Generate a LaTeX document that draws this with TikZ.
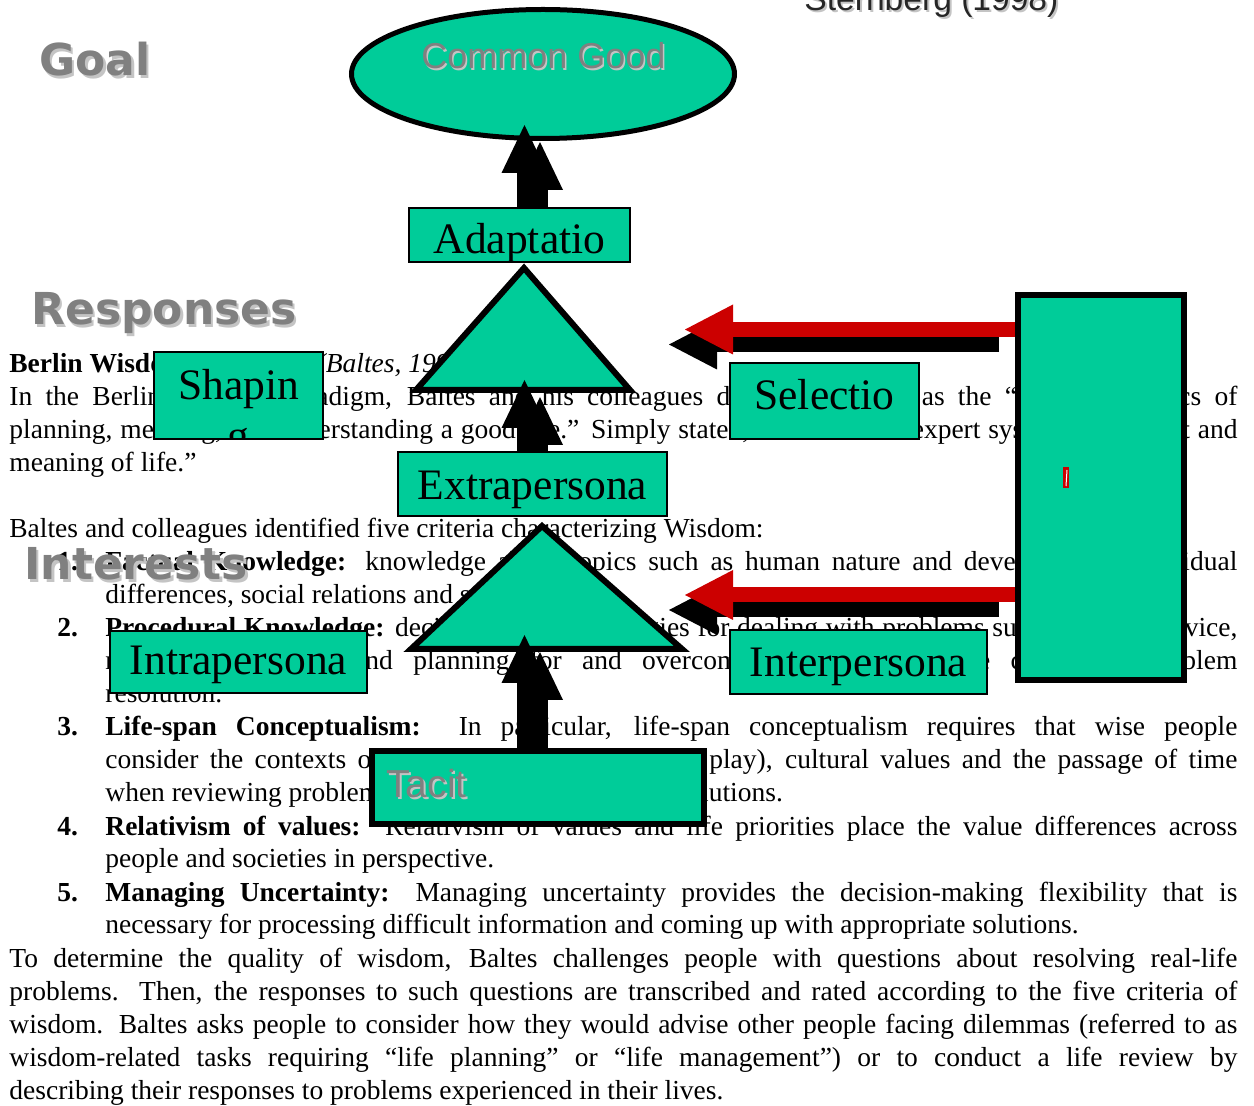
\documentclass[tikz,border=0pt]{standalone}
\usepackage{fontspec}
\setmainfont{Liberation Serif}
\setsansfont{DejaVu Sans}
\newfontfamily\arialfont{Liberation Sans}
\usepackage{tikz}
\usetikzlibrary{arrows.meta,shapes.geometric}
\usepackage{xcolor}
\definecolor{wisdomgreen}{HTML}{00CC99}
\definecolor{arrowred}{HTML}{CC0000}
\definecolor{headgray}{HTML}{808080}
\definecolor{shadegray}{HTML}{C4C4C4}

\newcommand{\bodysize}{\fontsize{13.75}{16.5}\selectfont}
\newcommand{\fullline}[1]{\makebox[614pt][s]{#1}}
\newcommand{\itemline}[1]{\makebox[566pt][s]{#1}}

\tikzset{
  bodyline/.style={font=\bodysize, inner sep=0pt, anchor=base west},
  numline/.style={bodyline, font=\bodysize\bfseries},
  heading/.style={font=\sffamily\bfseries\fontsize{22}{26}\selectfont, text=headgray, inner sep=0pt, anchor=base west},
  headshadow/.style={heading, text=shadegray},
  greenbox/.style={draw, fill=wisdomgreen, line width=1pt, inner sep=0pt},
  boxfont/.style={font=\fontsize{21.75}{26}\selectfont, inner sep=0pt, anchor=base},
  blockarrow/.style={draw=black, line width=8pt, -{Triangle[width=23pt 0 0, length=24pt 0 0, line width=0pt 0]}},
  redarrow/.style={draw=arrowred, line width=7.5pt, -{Triangle[width=25pt 0 0, length=24pt 0 0, line width=0pt 0]}},
  shadowarrow/.style={redarrow, draw=black, transform canvas={xshift=-8pt, yshift=-7.5pt}}
}

\begin{document}
\begin{tikzpicture}[x=0.5pt, y=-0.5pt]
  \useasboundingbox (0,0) rectangle (1254,1106);
  %% text of the page behind the diagram
  \node[bodyline] (berlin) at (9,373) {\textbf{Berlin Wisdom Paradigm} \textit{(Baltes, 1990)}};
  \node[bodyline] (l0) at (9,406) {\fullline{In the Berlin Wisdom Paradigm, Baltes and his colleagues describe wisdom as the “wise pragmatics of}};
  \node[bodyline] (l1) at (9,439) {\fullline{planning, meaning, and understanding a good life.” Simply stated, wisdom is an expert system of conduct and}};
  \node[bodyline] (l2) at (9,472) {meaning of life.”};
  \node[bodyline] (l4) at (9,538) {Baltes and colleagues identified five criteria characterizing Wisdom:};
  \node[numline] (n1) at (57,571) {1.};
  \node[bodyline] (l5) at (105,571) {\itemline{\textbf{Factual Knowledge:} knowledge about topics such as human nature and development, individual}};
  \node[bodyline] (l6) at (105,604) {differences, social relations and society.};
  \node[numline] (n2) at (57,637) {2.};
  \node[bodyline] (l7) at (105,637) {\itemline{\textbf{Procedural Knowledge:} decision-making strategies for dealing with problems such as giving advice,}};
  \node[bodyline] (l8) at (105,670) {\itemline{resolving conflicts, and planning for and overcoming obstacles in the course of problem}};
  \node[bodyline] (l9) at (105,703) {resolution.};
  \node[numline] (n3) at (57,736) {3.};
  \node[bodyline] (l10) at (105,736) {\itemline{\textbf{Life-span Conceptualism:}\ \ In particular, life-span conceptualism requires that wise people}};
  \node[bodyline] (l11) at (105,769) {\itemline{consider the contexts of life (family, friends, work, play), cultural values and the passage of time}};
  \node[bodyline] (l12) at (105,802) {when reviewing problems and considering possible solutions.};
  \node[numline] (n4) at (57,835) {4.};
  \node[bodyline] (l13) at (105,835) {\itemline{\textbf{Relativism of values:}\ \ Relativism of values and life priorities place the value differences across}};
  \node[bodyline] (l14) at (105,868) {people and societies in perspective.};
  \node[numline] (n5) at (57,901) {5.};
  \node[bodyline] (l15) at (105,901) {\itemline{\textbf{Managing Uncertainty:} Managing uncertainty provides the decision-making flexibility that is}};
  \node[bodyline] (l16) at (105,934) {necessary for processing difficult information and coming up with appropriate solutions.};
  \node[bodyline] (l17) at (9,967) {\fullline{To determine the quality of wisdom, Baltes challenges people with questions about resolving real-life}};
  \node[bodyline] (l18) at (9,1000) {\fullline{problems. Then, the responses to such questions are transcribed and rated according to the five criteria of}};
  \node[bodyline] (l19) at (9,1033) {\fullline{wisdom. Baltes asks people to consider how they would advise other people facing dilemmas (referred to as}};
  \node[bodyline] (l20) at (9,1066) {\fullline{wisdom-related tasks requiring “life planning” or “life management”) or to conduct a life review by}};
  \node[bodyline] (l21) at (9,1099) {describing their responses to problems experienced in their lives.};

  %% goal ellipse and the two triangles
  \node[ellipse, draw, fill=wisdomgreen, line width=2.5pt, inner sep=0pt,
        minimum width=191.5pt, minimum height=64.5pt] (good) at (543,74) {};
  \node[font=\arialfont\fontsize{18}{22}\selectfont, text=shadegray, inner sep=0pt, anchor=base] (goodshadow) at (545,71) {Common Good};
  \node[font=\arialfont\fontsize{18}{22}\selectfont, text=headgray, inner sep=0pt, anchor=base] (goodlabel) at (543.5,69) {Common Good};
  \draw[fill=wisdomgreen, line width=3pt] (416,390) -- (524,268) -- (630,390) -- cycle;
  \draw[fill=wisdomgreen, line width=3pt] (411,649) -- (542,526) -- (682,649) -- cycle;

  %% boxes
  \node[greenbox, minimum width=110.5pt, minimum height=27pt,
        path picture={\node[boxfont] (adaptlbl) at ([yshift=-23pt]path picture bounding box.north) {Adaptatio};}] (adapt) at (519.5,235) {};
  \node[greenbox, minimum width=84.5pt, minimum height=43.5pt,
        path picture={\node[boxfont] (shapelbl) at ([yshift=-24pt]path picture bounding box.north) {Shapin};
                      \node[boxfont] (shapelbl2) at ([yshift=-49.5pt]path picture bounding box.north) {g};}] (shaping) at (238.5,395.5) {};
  \node[greenbox, minimum width=94.5pt, minimum height=38pt,
        path picture={\node[boxfont] (selectlbl) at ([yshift=-23.5pt]path picture bounding box.north) {Selectio};}] (selection) at (824.5,401) {};
  \node[greenbox, minimum width=134.5pt, minimum height=32pt,
        path picture={\node[boxfont] (extralbl) at ([yshift=-23.75pt]path picture bounding box.north) {Extrapersona};}] (extra) at (532.5,484) {};
  \node[greenbox, minimum width=128.5pt, minimum height=31pt,
        path picture={\node[boxfont] (intralbl) at ([yshift=-22pt]path picture bounding box.north) {Intrapersona};}] (intra) at (238.5,662) {};
  \node[greenbox, minimum width=128.5pt, minimum height=32pt,
        path picture={\node[boxfont] (interlbl) at ([yshift=-23.5pt]path picture bounding box.north) {Interpersona};}] (inter) at (858.5,662) {};
  \node[greenbox, line width=3pt, minimum width=166pt, minimum height=36.5pt] (tacit) at (538,787.5) {};
  \node[font=\arialfont\fontsize{19.5}{23}\selectfont, text=shadegray, inner sep=0pt, anchor=base west] (tacitshadow) at (388,800) {Tacit};
  \node[font=\arialfont\fontsize{19.5}{23}\selectfont, text=headgray, inner sep=0pt, anchor=base west] (tacitlabel) at (386,798) {Tacit};
  \node[greenbox, line width=3pt, minimum width=83pt, minimum height=192.5pt] (bigbox) at (1101,487.5) {};
  \fill[arrowred] (1063,467) rectangle (1069,488);
  \draw[white, line width=0.5pt] (1067,470) -- (1066,486);

  %% black block arrows up the middle
  \coordinate (goaltip) at (524.5,125);
  \coordinate (goaltip2) at (540,142);
  \coordinate (midtip) at (524.5,380);
  \coordinate (midtip2) at (540,397);
  \coordinate (lowtip) at (524.5,635);
  \coordinate (lowtip2) at (540,652);
  \draw[blockarrow] (adapt.north -| goaltip2) -- (goaltip2);
  \draw[blockarrow] (adapt.north -| goaltip) -- (goaltip);
  \draw[blockarrow] (extra.north -| midtip2) -- (midtip2);
  \draw[blockarrow] (extra.north -| midtip) -- (midtip);
  \draw[blockarrow] (tacit.north -| lowtip2) -- (lowtip2);
  \draw[blockarrow] (tacit.north -| lowtip) -- (lowtip);

  %% red arrows with their shadows
  \coordinate (seltip) at (685,329.5);
  \coordinate (intertip) at (685,595);
  \draw[shadowarrow] (bigbox.west |- seltip) -- (seltip);
  \draw[redarrow] (bigbox.west |- seltip) -- (seltip);
  \draw[shadowarrow] (bigbox.west |- intertip) -- (intertip);
  \draw[redarrow] (bigbox.west |- intertip) -- (intertip);

  %% headings
  \node[headshadow] (goalshadow) at (41.5,78.5) {Goal};
  \node[heading] (goal) at (39,76) {Goal};
  \node[headshadow] (respshadow) at (33.5,327.5) {Responses};
  \node[heading] (resp) at (31,325) {Responses};
  \node[headshadow] (intshadow) at (26.5,582.5) {Interests};
  \node[heading] (interests) at (24,580) {Interests};
  \node[font=\arialfont\fontsize{16.8}{20}\selectfont, text=shadegray, inner sep=0pt, anchor=base west] (sternshadow) at (806,13) {Sternberg (1998)};
  \node[font=\arialfont\fontsize{16.8}{20}\selectfont, text=black!85, inner sep=0pt, anchor=base west] (sternberg) at (804,11) {Sternberg (1998)};
\end{tikzpicture}
\end{document}
